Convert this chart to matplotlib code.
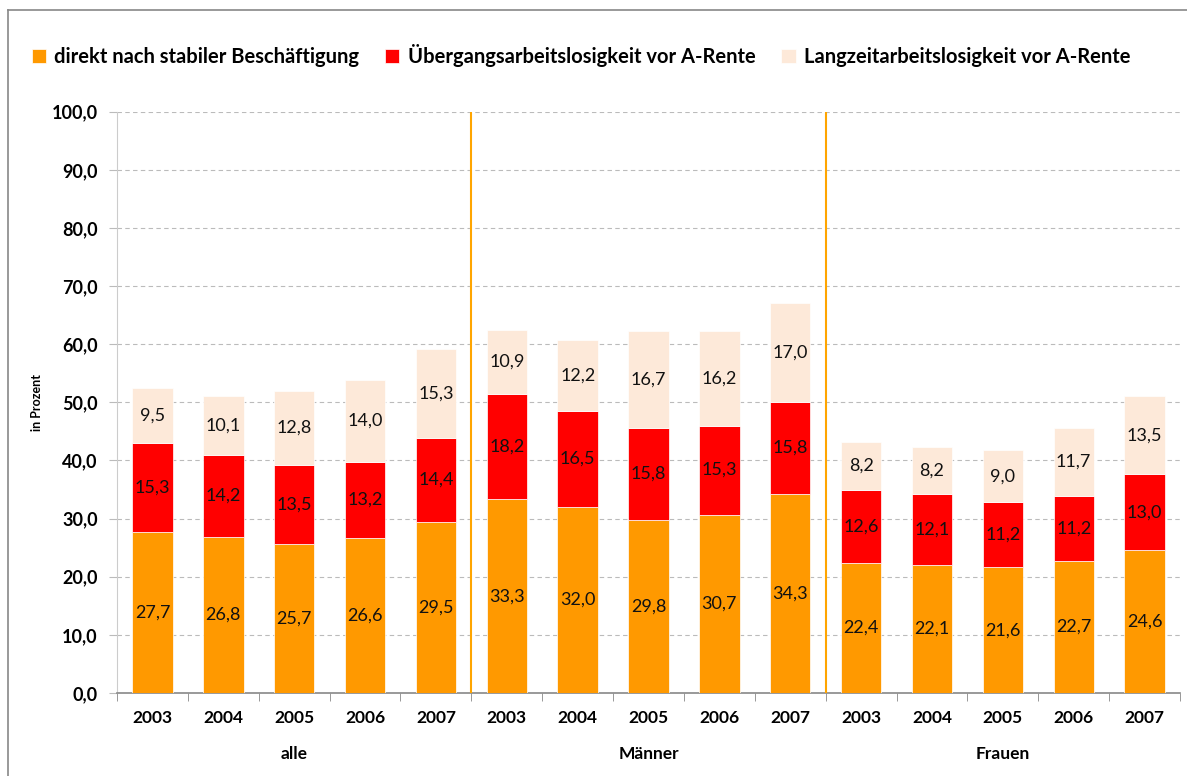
import matplotlib.pyplot as plt
import numpy as np

plt.rcParams['font.family'] = ['Lato', 'DejaVu Sans']

years = ['2003', '2004', '2005', '2006', '2007']
groups = ['alle', 'Männer', 'Frauen']

direkt = [27.7, 26.8, 25.7, 26.6, 29.5,
          33.3, 32.0, 29.8, 30.7, 34.3,
          22.4, 22.1, 21.6, 22.7, 24.6]
uebergang = [15.3, 14.2, 13.5, 13.2, 14.4,
             18.2, 16.5, 15.8, 15.3, 15.8,
             12.6, 12.1, 11.2, 11.2, 13.0]
langzeit = [9.5, 10.1, 12.8, 14.0, 15.3,
            10.9, 12.2, 16.7, 16.2, 17.0,
            8.2, 8.2, 9.0, 11.7, 13.5]

names = ['direkt nach stabiler Beschäftigung',
         'Übergangsarbeitslosigkeit vor A-Rente',
         'Langzeitarbeitslosigkeit vor A-Rente']
colors = ['#FF9900', '#FF0000', '#FDE9D9']

fig = plt.figure(figsize=(11.87, 7.76), dpi=100)
ax = fig.add_axes([0.0986, 0.107, 0.8955, 0.749])

x = np.arange(len(direkt))
series = [direkt, uebergang, langzeit]
bottom = np.zeros(len(x))
for vals, col, name in zip(series, colors, names):
    vals = np.array(vals)
    ax.bar(x, vals, 0.57, bottom=bottom, color=col, label=name, zorder=3,
           edgecolor='white', linewidth=0.5)
    for xi, b, v in zip(x, bottom, vals):
        ax.text(xi, b + v / 2, f'{v:.1f}'.replace('.', ','), ha='center', va='center',
                fontsize=13, color='#111111', zorder=4)
    bottom += vals

ax.set_xlim(-0.5, len(x) - 0.5)
ax.set_ylim(0, 100)
ax.set_yticks(np.arange(0, 101, 10))
ax.set_yticklabels([f'{v:.1f}'.replace('.', ',') for v in np.arange(0, 101, 10)],
                   fontsize=13, fontweight='bold')
ax.yaxis.grid(True, linestyle=(0, (4, 3)), color='#BBBBBB', linewidth=0.8, zorder=0)
ax.set_ylabel('in Prozent', fontsize=9, fontweight='bold', labelpad=6)

ax.set_xticks(x)
ax.set_xticklabels(years * 3, fontsize=12.5, fontweight='bold')
ax.set_xticks(np.arange(-0.5, len(x), 1), minor=True)
ax.tick_params(axis='x', which='major', length=0, pad=12)
ax.tick_params(axis='x', which='minor', length=6, color='#888888')
ax.tick_params(axis='y', length=6, color='#BBBBBB', pad=8)

for s in ['top', 'right']:
    ax.spines[s].set_visible(False)
ax.spines['left'].set_color('#CCCCCC')
ax.spines['bottom'].set_color('#888888')
ax.spines['bottom'].set_linewidth(1.2)

for sep in [4.5, 9.5]:
    ax.axvline(sep, color='#FFA500', linewidth=1.5, zorder=5)

for i, g in enumerate(groups):
    ax.text(i * 5 + 2, -10.5, g, ha='center', va='center', fontsize=12.5,
            fontweight='bold')

ax.legend(loc='lower left', bbox_to_anchor=(-0.097, 1.045), ncol=3, frameon=False,
          handlelength=0.7, handleheight=0.7, handletextpad=0.4, columnspacing=1.3,
          prop={'size': 14.5, 'weight': 'bold'})

# frame lines of the original chart area
fig.add_artist(plt.Line2D([0.007, 0.007], [0, 0.987], color='#888888', linewidth=1.2))
fig.add_artist(plt.Line2D([0.007, 1], [0.987, 0.987], color='#888888', linewidth=1.2))

fig.savefig('out.png', dpi=100)
